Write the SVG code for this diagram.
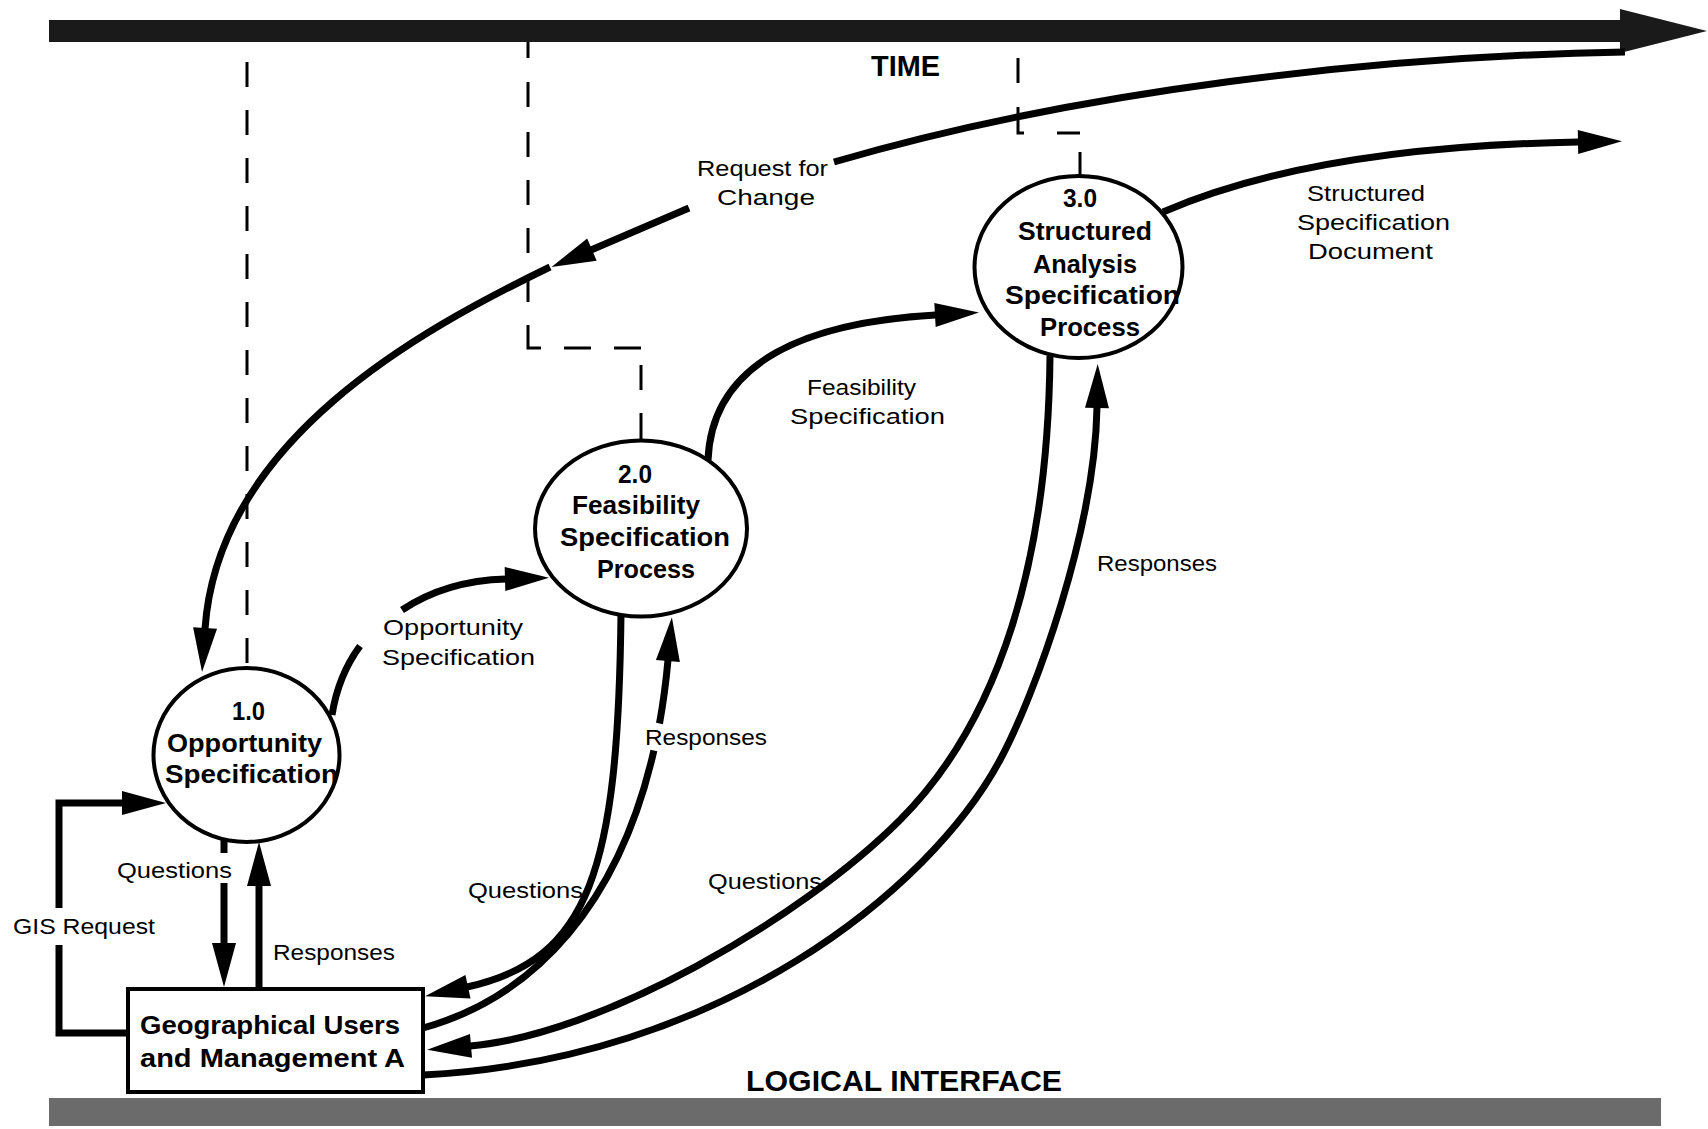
<svg xmlns="http://www.w3.org/2000/svg" width="1708" height="1129" viewBox="0 0 1708 1129">
  <style>
    .flow { fill: none; stroke: #000; stroke-width: 7; }
    .dash { fill: none; stroke: #000; stroke-width: 3; }
    .bubble { fill: #fff; stroke: #000; stroke-width: 4; }
    .bold { font-family: "Liberation Sans", Arial, sans-serif; font-weight: bold; font-size: 26px; fill: #000; }
    .lbl { font-family: "Liberation Sans", Arial, sans-serif; font-size: 22px; fill: #000; }
    .band { font-family: "Liberation Sans", Arial, sans-serif; font-weight: bold; font-size: 30px; fill: #000; }
  </style>
  <defs>
    <marker id="head" markerUnits="userSpaceOnUse" markerWidth="46" markerHeight="26" refX="1" refY="12" orient="auto" overflow="visible">
      <path d="M0,0 L44,12 L0,24 Z" fill="#000"/>
    </marker>
  </defs>

  <rect width="1708" height="1129" fill="#fff"/>

  <!-- time axis -->
  <g id="time-axis">
    <rect x="49" y="20" width="1572" height="22" fill="#1a1a1a"/>
    <polygon points="1620,9 1707,31 1620,53" fill="#1a1a1a"/>
    <text class="band" x="871" y="76" textLength="69" lengthAdjust="spacingAndGlyphs">TIME</text>
  </g>

  <!-- logical interface band -->
  <g id="logical-interface">
    <rect x="49" y="1098" width="1612" height="28" fill="#6b6b6b"/>
    <text class="band" x="746" y="1091" textLength="316" lengthAdjust="spacingAndGlyphs">LOGICAL INTERFACE</text>
  </g>

  <!-- connectors -->
  <g id="connectors">
    <!-- time markers (dashed) -->
    <path class="dash" d="M247,62 V668" stroke-dasharray="25 23"/>
    <path class="dash" d="M528,42 V58 M528,82 V107 M528,132 V157 M528,180 V205 M528,228 V253 M528,277 V302 M528,325 V348 H541 M564,348 H591 M614,348 H641 M641,365 V390 M641,413 V440"/>
    <path class="dash" d="M1018,58 V83 M1018,107 V133 H1024 M1057,133 H1080 M1080,152 V176"/>

    <!-- Request for Change -->
    <path class="flow" d="M1625,52 C1380,56 1080,90 834,162"/>
    <path class="flow" d="M689,208 L591,250" marker-end="url(#head)"/>
    <path class="flow" d="M550,267 C420,330 218,440 205,629" marker-end="url(#head)"/>

    <!-- Structured Specification Document -->
    <path class="flow" d="M1163,212 C1260,170 1400,145 1579,142" marker-end="url(#head)"/>

    <!-- Feasibility Specification -->
    <path class="flow" d="M708,460 C712,360 810,322 936,315" marker-end="url(#head)"/>

    <!-- Opportunity Specification -->
    <path class="flow" d="M332,715 C336,690 346,665 360,646"/>
    <path class="flow" d="M402,610 C435,588 470,580 506,579" marker-end="url(#head)"/>

    <!-- GIS Request -->
    <path class="flow" d="M128,1033 H59 V945"/>
    <path class="flow" d="M59,908 V803 H123" marker-end="url(#head)"/>

    <!-- 1.0 Questions / Responses -->
    <path class="flow" d="M224,839 V853"/>
    <path class="flow" d="M224,883 V944" marker-end="url(#head)"/>
    <path class="flow" d="M259,989 V885" marker-end="url(#head)"/>

    <!-- 2.0 Questions / Responses -->
    <path class="flow" d="M621,614 C618,870 590,960 467,987" marker-end="url(#head)"/>
    <path class="flow" d="M423,1028 C538.4,996.1 620,899.2 653.9,750.5"/>
    <path class="flow" d="M659.5,723.5 C663.2,703.2 666,682 668,660" marker-end="url(#head)"/>

    <!-- 3.0 Questions / Responses -->
    <path class="flow" d="M1050,356 C1048,560 1000,720 900,820 C800,920 600,1035 470,1046" marker-end="url(#head)"/>
    <path class="flow" d="M423,1075 C720,1060 930,890 1000,760 C1035,695 1095,530 1097,407" marker-end="url(#head)"/>
  </g>

  <!-- flow labels -->
  <g id="labels">
    <text class="lbl" x="697" y="176" textLength="131" lengthAdjust="spacingAndGlyphs">Request for</text>
    <text class="lbl" x="717" y="205" textLength="98" lengthAdjust="spacingAndGlyphs">Change</text>
    <text class="lbl" x="1307" y="201" textLength="118" lengthAdjust="spacingAndGlyphs">Structured</text>
    <text class="lbl" x="1297" y="230" textLength="153" lengthAdjust="spacingAndGlyphs">Specification</text>
    <text class="lbl" x="1308" y="259" textLength="125" lengthAdjust="spacingAndGlyphs">Document</text>
    <text class="lbl" x="807" y="395" textLength="109" lengthAdjust="spacingAndGlyphs">Feasibility</text>
    <text class="lbl" x="790" y="424" textLength="155" lengthAdjust="spacingAndGlyphs">Specification</text>
    <text class="lbl" x="383" y="635" textLength="140" lengthAdjust="spacingAndGlyphs">Opportunity</text>
    <text class="lbl" x="382" y="665" textLength="153" lengthAdjust="spacingAndGlyphs">Specification</text>
    <text class="lbl" x="1097" y="571" textLength="120" lengthAdjust="spacingAndGlyphs">Responses</text>
    <text class="lbl" x="645" y="745" textLength="122" lengthAdjust="spacingAndGlyphs">Responses</text>
    <text class="lbl" x="117" y="878" textLength="115" lengthAdjust="spacingAndGlyphs">Questions</text>
    <text class="lbl" x="13" y="934" textLength="142" lengthAdjust="spacingAndGlyphs">GIS Request</text>
    <text class="lbl" x="273" y="960" textLength="122" lengthAdjust="spacingAndGlyphs">Responses</text>
    <text class="lbl" x="468" y="898" textLength="115" lengthAdjust="spacingAndGlyphs">Questions</text>
    <text class="lbl" x="708" y="889" textLength="114" lengthAdjust="spacingAndGlyphs">Questions</text>
  </g>

  <!-- process 1.0 -->
  <g id="p1">
    <ellipse class="bubble" cx="246.5" cy="755" rx="93" ry="87"/>
    <text class="bold" x="232" y="720" textLength="33" lengthAdjust="spacingAndGlyphs">1.0</text>
    <text class="bold" x="167" y="752" textLength="155" lengthAdjust="spacingAndGlyphs">Opportunity</text>
    <text class="bold" x="165" y="783" textLength="173" lengthAdjust="spacingAndGlyphs">Specification</text>
  </g>

  <!-- process 2.0 -->
  <g id="p2">
    <ellipse class="bubble" cx="641" cy="528.5" rx="106" ry="88"/>
    <text class="bold" x="618" y="483" textLength="34" lengthAdjust="spacingAndGlyphs">2.0</text>
    <text class="bold" x="572" y="514" textLength="128" lengthAdjust="spacingAndGlyphs">Feasibility</text>
    <text class="bold" x="560" y="546" textLength="170" lengthAdjust="spacingAndGlyphs">Specification</text>
    <text class="bold" x="597" y="578" textLength="98" lengthAdjust="spacingAndGlyphs">Process</text>
  </g>

  <!-- process 3.0 -->
  <g id="p3">
    <ellipse class="bubble" cx="1078.5" cy="267" rx="104" ry="91"/>
    <text class="bold" x="1063" y="207" textLength="34" lengthAdjust="spacingAndGlyphs">3.0</text>
    <text class="bold" x="1018" y="240" textLength="134" lengthAdjust="spacingAndGlyphs">Structured</text>
    <text class="bold" x="1033" y="273" textLength="104" lengthAdjust="spacingAndGlyphs">Analysis</text>
    <text class="bold" x="1005" y="304" textLength="175" lengthAdjust="spacingAndGlyphs">Specification</text>
    <text class="bold" x="1040" y="336" textLength="100" lengthAdjust="spacingAndGlyphs">Process</text>
  </g>

  <!-- external entity -->
  <g id="users">
    <rect x="128" y="989" width="295" height="103" fill="#fff" stroke="#000" stroke-width="4"/>
    <text class="bold" x="140" y="1034" textLength="260" lengthAdjust="spacingAndGlyphs">Geographical Users</text>
    <text class="bold" x="140" y="1067" textLength="265" lengthAdjust="spacingAndGlyphs">and Management A</text>
  </g>
</svg>
